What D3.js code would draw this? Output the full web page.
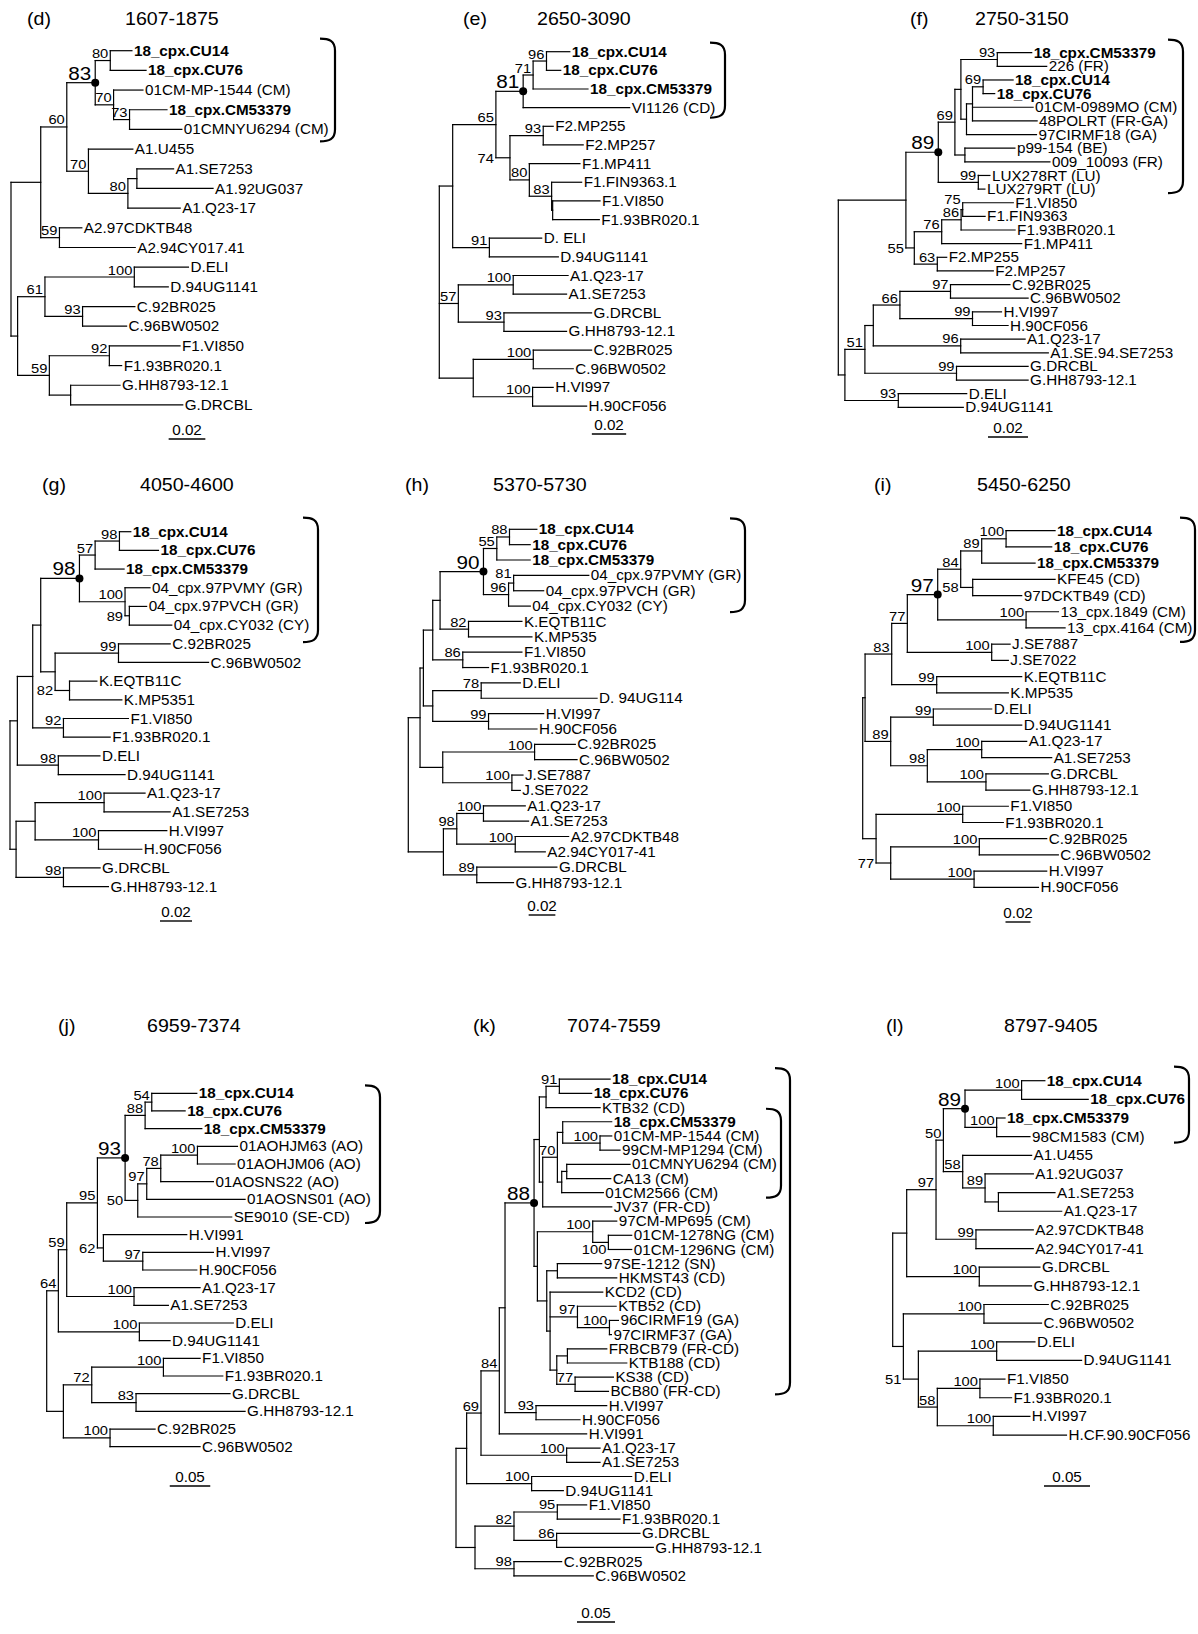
<!DOCTYPE html>
<html>
<head>
<meta charset="utf-8">
<script src="https://cdn.jsdelivr.net/npm/d3@7"></script>
<style>
body { margin: 0; background: #fff; }
svg text { font-family: "Liberation Sans", Arial, Helvetica, sans-serif; fill: #000; }
</style>
</head>
<body>
<svg id="fig" width="1198" height="1634"></svg>
<script>
// ---- data -------------------------------------------------------------
const panelIds = ["(d)", "(e)", "(f)", "(g)", "(h)", "(i)", "(j)", "(k)", "(l)"];
const panelRegions = ["1607-1875", "2650-3090", "2750-3150", "4050-4600", "5370-5730",
                      "5450-6250", "6959-7374", "7074-7559", "8797-9405"];
const scaleValues = [0.02, 0.02, 0.02, 0.02, 0.02, 0.02, 0.05, 0.05, 0.05];

// newick, branch lengths in substitutions/site, internal labels = bootstrap
//   "*" = the 18_cpx node (dot), "<" = label left of parent, "v" = label below branch,
//   "^" = label lifted a little
const treeD = `(((((18_cpx.CU14:0.0118,18_cpx.CU76:0.0195)80:0.0082,
('01CM-MP-1544 (CM)':0.0160,(18_cpx.CM53379:0.0204,'01CMNYU6294 (CM)':0.0285)73:0.0087)70:0.0100)83*:0.0155,
(A1.U455:0.0242,((A1.SE7253:0.0200,A1.92UG037:0.0415):0.0049,A1.Q23-17:0.0285)80:0.0215)70:0.0118)60:0.0142,
(A2.97CDKTB48:0.0122,A2.94CY017.41:0.0413)59:0.0102):0.0162,
(((D.ELI:0.0295,D.94UG1141:0.0185)100:0.0487,(C.92BR025:0.0285,C.96BW0502:0.0240)93:0.0205)61:0.0149,
((F1.VI850:0.0385,F1.93BR020.1:0.0067)92:0.0327,(G.HH8793-12.1:0.0269,G.DRCBL:0.0611):0.0116)59:0.0173):0.0036);`;

const treeE = `((((((18_cpx.CU14:0.0136,18_cpx.CU76:0.0083)96:0.0078,18_cpx.CM53379:0.0320)71:0.0058,'VI1126 (CD)':0.0621)81*:0.0159,
((F2.MP255:0.0058,F2.MP257:0.0233)93:0.0194,(F1.MP411:0.0295,(F1.FIN9363.1:0.0175,(F1.VI850:0.0276,F1.93BR020.1:0.0272):0.0006)83:0.0130)80:0.0113)74<:0.0082)65:0.0252,
('D. ELI':0.0305,D.94UG1141:0.0402)91:0.0214):0.0078,
((A1.Q23-17:0.0320,A1.SE7253:0.0311)100:0.0320,(G.DRCBL:0.0511,G.HH8793-12.1:0.0365)93:0.0266)57:0.0111,
((C.92BR025:0.0340,C.96BW0502:0.0233)100:0.0350,(H.VI997:0.0120,H.90CF056:0.0315)100:0.0346):0.0198);`;

const treeF = `((((((18_cpx.CM53379:0.0172,'226 (FR)':0.0247)93:0.0182,
(((18_cpx.CU14:0.0150,18_cpx.CU76:0.0058)69:0.0053,'01CM-0989MO (CM)':0.0303,'48POLRT (FR-GA)':0.0323):0.0030,'97CIRMF18 (GA)':0.0350):0.0028):0.0030,
('p99-154 (BE)':0.0250,'009_10093 (FR)':0.0425):0.0050)69:0.0083,
('LUX278RT (LU)':0.0058,'LUX279RT (LU)':0.0033)99:0.0200)89*:0.0162,
((((F1.VI850:0.0253,F1.FIN9363:0.0112)75^:0.0008,F1.93BR020.1:0.0270)86:0.0097,F1.MP411:0.0400)76:0.0137,
(F2.MP255:0.0047,F2.MP257:0.0280)63:0.0115)55<:0.0042):0.0338,
(((((C.92BR025:0.0297,C.96BW0502:0.0388)97:0.0253,(H.VI997:0.0145,H.90CF056:0.0178)99:0.0363)66:0.0133,
(A1.Q23-17:0.0322,A1.SE.94.SE7253:0.0438)96:0.0437):0.0042,
(G.DRCBL:0.0358,G.HH8793-12.1:0.0358)99:0.0458)51:0.0100,
(D.ELI:0.0342,D.94UG1141:0.0325)93:0.0267):0.0033);`;

const treeG = `(((((((18_cpx.CU14:0.0071,18_cpx.CU76:0.0244)98:0.0152,18_cpx.CM53379:0.0181)57:0.0098,
('04_cpx.97PVMY (GR)':0.0156,('04_cpx.97PVCH (GR)':0.0108,'04_cpx.CY032 (CY)':0.0265)89<:0.0027)100:0.0285)98*:0.0242,
((C.92BR025:0.0323,C.96BW0502:0.0563)99:0.0396,(K.EQTB11C:0.0171,K.MP5351:0.0327)82<:0.0090):0.0090):0.0050,
(F1.VI850:0.0406,F1.93BR020.1:0.0292)92:0.0192):0.0096,
(D.ELI:0.0260,D.94UG1141:0.0417)98:0.0256):0.0046,
(((A1.Q23-17:0.0256,A1.SE7253:0.0413)100:0.0431,(H.VI997:0.0427,H.90CF056:0.0271)100:0.0396):0.0119,
(G.DRCBL:0.0229,G.HH8793-12.1:0.0281)98:0.0296):0.0038);`;

const treeH = `((((((((18_cpx.CU14:0.0205,18_cpx.CU76:0.0155)88:0.0095,18_cpx.CM53379:0.0250)55:0.0100,
(('04_cpx.97PVMY (GR)':0.0563,'04_cpx.97PVCH (GR)':0.0225)81^:0.0038,'04_cpx.CY032 (CY)':0.0163)96:0.0188)90*:0.0325,
(K.EQTB11C:0.0400,K.MP535:0.0475)82:0.0213):0.0055,
(F1.VI850:0.0443,F1.93BR020.1:0.0193)86:0.0225):0.0070,
((D.ELI:0.0293,'D. 94UG114':0.0868)78:0.0363,(H.VI997:0.0413,H.90CF056:0.0363)99:0.0418):0.0070):0.0025,
((C.92BR025:0.0305,C.96BW0502:0.0318)100:0.0688,(J.SE7887:0.0083,J.SE7022:0.0063)100:0.0518):0.0170):0.0088,
(((A1.Q23-17:0.0313,A1.SE7253:0.0338)100:0.0200,(A2.97CDKTB48:0.0400,A2.94CY017-41:0.0225)100:0.0438)98:0.0100,
(G.DRCBL:0.0600,G.HH8793-12.1:0.0275)89:0.0250):0.0263);`;

const treeI = `((((((((18_cpx.CU14:0.0392,18_cpx.CU76:0.0365)100:0.0195,18_cpx.CM53379:0.0427)89:0.0168,
('KFE45 (CD)':0.0659,'97DCKTB49 (CD)':0.0392)58<:0.0096)84:0.0184,
('13_cpx.1849 (CM)':0.0259,'13_cpx.4164 (CM)':0.0312)100:0.0707)97*:0.0243,
(J.SE7887:0.0147,J.SE7022:0.0133)100:0.0675)77:0.0125,
(K.EQTB11C:0.0680,K.MP535:0.0573)99:0.0360)83:0.0213,
((D.ELI:0.0467,D.94UG1141:0.0707)99:0.0341,((A1.Q23-17:0.0360,A1.SE7253:0.0560)100:0.0435,(G.DRCBL:0.0499,G.HH8793-12.1:0.0352)100:0.0469)98:0.0293)89:0.0205):0.0019,
((F1.VI850:0.0365,F1.93BR020.1:0.0325)100:0.0693,
((C.92BR025:0.0539,C.96BW0502:0.0632)100:0.0709,(H.VI997:0.0581,H.90CF056:0.0515)100:0.0667)77<:0.0117):0.0107);`;

const treeJ = `(((((((18_cpx.CU14:0.0556,18_cpx.CU76:0.0412)54:0.0082,18_cpx.CM53379:0.0700)88:0.0247,
(((('01AOHJM63 (AO)':0.0494,'01AOHJM06 (AO)':0.0465)100:0.0453,'01AOSNS22 (AO)':0.0650)78:0.0173,'01AOSNS01 (AO)':0.1214)97:0.0111,'SE9010 (SE-CD)':0.1160)50<:0.0156)93*:0.0342,
(H.VI991:0.1029,(H.VI997:0.0872,H.90CF056:0.0667)97:0.0486)62<:0.0074)95:0.0379,
(A1.Q23-17:0.0815,A1.SE7253:0.0424)100:0.0831)59:0.0103,
(D.ELI:0.1160,D.94UG1141:0.0379)100:0.1000)64:0.0144,
(((F1.VI850:0.0453,F1.93BR020.1:0.0733)100:0.0885,(G.DRCBL:0.1160,G.HH8793-12.1:0.1346)83:0.0547)72:0.0350,
(C.92BR025:0.0556,C.96BW0502:0.1111)100:0.0576):0.0206);`;

const treeK = `(((((((((18_cpx.CU14:0.0667,18_cpx.CU76:0.0425)91:0.0175,'KTB32 (CD)':0.0711):0.0088,
(((18_cpx.CM53379:0.0645,('01CM-MP-1544 (CM)':0.0154,'99CM-MP1294 (CM)':0.0263)100:0.0491):0.0070,
(('01CMNYU6294 (CM)':0.0833,'CA13 (CM)':0.0579):0.0066,'01CM2566 (CM)':0.0548):0.0057)70:0.0193,'JV37 (FR-CD)':0.0908):0.0044):0.0070,
(('97CM-MP695 (CM)':0.0316,('01CM-1278NG (CM)':0.0307,'01CM-1296NG (CM)':0.0307)100v:0.0206)100:0.0728,
(('97SE-1212 (SN)':0.0583,'HKMST43 (CD)':0.0781):0.0140,
('KCD2 (CD)':0.0693,('KTB52 (CD)':0.0509,('96CIRMF19 (GA)':0.0118,'97CIRMF37 (GA)':0.0026)100:0.0421)97:0.0360,
(('FRBCB79 (FR-CD)':0.0518,'KTB188 (CD)':0.0781):0.0140,('KS38 (CD)':0.0504,'BCB80 (FR-CD)':0.0439)77:0.0241):0.0088):0.0044):0.0123):0.0044)88*:0.0382,
(H.VI997:0.0930,H.90CF056:0.0579)93:0.0408):0.0075,
H.VI991:0.1149)84:0.0241,
(A1.Q23-17:0.0439,A1.SE7253:0.0439)100:0.1127)69:0.0189,
(D.ELI:0.1316,D.94UG1141:0.0417)100:0.0855):0.0140,
(((F1.VI850:0.0386,F1.93BR020.1:0.0825)95:0.0570,(G.DRCBL:0.1096,G.HH8793-12.1:0.1272)86:0.0561)82:0.0513,
(C.92BR025:0.0627,C.96BW0502:0.1043)98:0.0513):0.0250);`;

const treeL = `((((((18_cpx.CU14:0.0253,18_cpx.CU76:0.0724)100:0.0615,(18_cpx.CM53379:0.0091,'98CM1583 (CM)':0.0362)100:0.0344)89*:0.0235,
(A1.U455:0.0749,(A1.92UG037:0.0525,(A1.SE7253:0.0615,A1.Q23-17:0.0688):0.0145)89:0.0243)58:0.0210)50:0.0080,
(A2.97CDKTB48:0.0623,A2.94CY017-41:0.0623)99:0.0434)97:0.0319,
(G.DRCBL:0.0659,G.HH8793-12.1:0.0568)100:0.0789):0.0152,
((C.92BR025:0.0699,C.96BW0502:0.0626)100:0.0876,
((D.ELI:0.0416,D.94UG1141:0.0923)100:0.0851,((F1.VI850:0.0272,F1.93BR020.1:0.0344)100:0.0463,(H.VI997:0.0398,H.CF.90.90CF056:0.0796)100:0.0608)58:0.0206)51<:0.0163):0.0116);`;

const trees = [treeD, treeE, treeF, treeG, treeH, treeI, treeJ, treeK, treeL];

// first and last leaf covered by each bracket
const bracketLeaves = [
  [["18_cpx.CU14", "01CMNYU6294 (CM)"]],
  [["18_cpx.CU14", "VI1126 (CD)"]],
  [["18_cpx.CM53379", "LUX279RT (LU)"]],
  [["18_cpx.CU14", "04_cpx.CY032 (CY)"]],
  [["18_cpx.CU14", "04_cpx.CY032 (CY)"]],
  [["18_cpx.CU14", "13_cpx.4164 (CM)"]],
  [["18_cpx.CU14", "SE9010 (SE-CD)"]],
  [["18_cpx.CU14", "BCB80 (FR-CD)"], ["18_cpx.CM53379", "01CM2566 (CM)"]],
  [["18_cpx.CU14", "98CM1583 (CM)"]]
];

// ---- layout -----------------------------------------------------------
const layout = [
  {rootX: 11,    y0: 50.7,   dy: 19.68, bar: 36.7, barCx: 187,  barY: 439,  titleY: 25,   idX: 27,  regX: 125,  br: [[335, 12, 12]]},
  {rootX: 439.3, y0: 51.7,   dy: 18.65, bar: 34.3, barCx: 609,  barY: 434,  titleY: 25,   idX: 463, regX: 537,  br: [[725, 9, 10]]},
  {rootX: 838.3, y0: 52.7,   dy: 13.64, bar: 40,   barCx: 1008, barY: 437,  titleY: 25,   idX: 910, regX: 975,  br: [[1183, 13, 4]]},
  {rootX: 10,    y0: 531.7,  dy: 18.68, bar: 32,   barCx: 176,  barY: 921,  titleY: 491,  idX: 42,  regX: 140,  br: [[318, 14, 17]]},
  {rootX: 408.3, y0: 529.3,  dy: 15.36, bar: 26.7, barCx: 542,  barY: 915,  titleY: 491,  idX: 405, regX: 493,  br: [[745, 11, 6]]},
  {rootX: 862.7, y0: 530.7,  dy: 16.21, bar: 25,   barCx: 1018, barY: 922,  titleY: 491,  idX: 874, regX: 977,  br: [[1195, 13, 14]]},
  {rootX: 46.7,  y0: 1093.3, dy: 17.67, bar: 40.5, barCx: 190,  barY: 1486, titleY: 1032, idX: 58,  regX: 147,  br: [[380, 8, 6]]},
  {rootX: 456,   y0: 1079.2, dy: 14.19, bar: 38,   barCx: 596,  barY: 1622, titleY: 1032, idX: 473, regX: 567,  br: [[790, 11, 3], [781, 13, 5]]},
  {rootX: 892.7, y0: 1080.7, dy: 18.65, bar: 46,   barCx: 1067, barY: 1486, titleY: 1032, idX: 886, regX: 1004, br: [[1189, 14, 6]]}
];

const SX = 1.09;   // the figure's type is slightly wide

// ---- newick parser ----------------------------------------------------
function parseNewick(src) {
  const s = src.replace(/\s+(?=(?:[^']*'[^']*')*[^']*$)/g, "");
  let i = 0;
  function label() {
    if (s[i] === "'") {
      const j = s.indexOf("'", i + 1);
      const t = s.slice(i + 1, j);
      i = j + 1;
      return t;
    }
    const j0 = i;
    while (i < s.length && !",():;".includes(s[i])) i++;
    return s.slice(j0, i);
  }
  function node() {
    const n = {name: "", length: 0, kids: []};
    if (s[i] === "(") {
      i++;
      n.kids.push(node());
      while (s[i] === ",") { i++; n.kids.push(node()); }
      i++;
    }
    n.name = label();
    if (s[i] === ":") {
      i++;
      const j0 = i;
      while (i < s.length && !",);".includes(s[i])) i++;
      n.length = +s.slice(j0, i);
    }
    return n;
  }
  return node();
}

const svg = d3.select("#fig");

function addText(g, x, y, str, size, anchor, weight) {
  return g.append("text")
    .attr("transform", `translate(${x},${y}) scale(${SX},1)`)
    .attr("text-anchor", anchor || "start")
    .attr("font-size", size)
    .attr("font-weight", weight || "normal")
    .text(str);
}

function drawPanel(k) {
  const L = layout[k];
  const root = d3.hierarchy(parseNewick(trees[k]), d => d.kids.length ? d.kids : null);
  root.eachBefore(d => { d.dist = d.parent ? d.parent.dist + d.data.length : 0; });
  const leaves = root.leaves();
  leaves.forEach((d, i) => { d.row = i; });
  root.eachAfter(d => {
    if (d.children) d.row = (d.children[0].row + d.children[d.children.length - 1].row) / 2;
  });

  const x = d3.scaleLinear().domain([0, scaleValues[k]]).range([L.rootX, L.rootX + L.bar]);
  const y = d3.scaleLinear().domain([0, leaves.length - 1])
    .range([L.y0, L.y0 + (leaves.length - 1) * L.dy]);

  const g = svg.append("g");

  // titles
  addText(g, L.idX, L.titleY, panelIds[k], 18);
  addText(g, L.regX, L.titleY, panelRegions[k], 18);

  // branches
  const lines = g.append("g").attr("fill", "none").attr("stroke", "#000")
    .attr("stroke-width", 1.2).attr("stroke-linecap", "square");
  lines.selectAll("path.h").data(root.descendants().filter(d => d.parent)).join("path")
    .attr("class", "h")
    .attr("d", d => `M${x(d.parent.dist)},${y(d.row)}H${x(d.dist)}`);
  lines.selectAll("path.v").data(root.descendants().filter(d => d.children)).join("path")
    .attr("class", "v")
    .attr("d", d => `M${x(d.dist)},${y(d.children[0].row)}V${y(d.children[d.children.length - 1].row)}`);

  // leaf names
  leaves.forEach(d => {
    const bold = d.data.name.startsWith("18_cpx");
    addText(g, x(d.dist) + 2, y(d.row), d.data.name, 14, "start", bold ? "bold" : "normal")
      .attr("dy", "0.36em");
  });

  // bootstrap values
  root.descendants().filter(d => d.children && d.data.name).forEach(d => {
    const m = d.data.name.match(/^(\d+)([*<v^]?)$/);
    if (!m) return;
    const val = m[1], flag = m[2];
    const nx = x(d.dist), ny = y(d.row);
    if (flag === "*") {
      g.append("circle").attr("cx", nx).attr("cy", ny).attr("r", 4).attr("fill", "#000");
      addText(g, nx - 4, ny - 3, val, 19, "end");
    } else if (flag === "<") {
      addText(g, x(d.parent.dist) - 2, ny, val, 13.5, "end").attr("dy", "0.36em");
    } else if (flag === "v") {
      addText(g, nx - 2, ny + 12, val, 13.5, "end");
    } else if (flag === "^") {
      addText(g, nx - 2, ny - 5.5, val, 13.5, "end");
    } else {
      addText(g, nx - 2, ny - 2.5, val, 13.5, "end");
    }
  });

  // brackets around the 18_cpx clade
  const byName = new Map(leaves.map(d => [d.data.name, d]));
  bracketLeaves[k].forEach((pair, j) => {
    const [bx, pt, pb] = L.br[j];
    const top = y(byName.get(pair[0]).row) - pt;
    const bot = y(byName.get(pair[1]).row) + pb;
    g.append("path")
      .attr("fill", "none").attr("stroke", "#000").attr("stroke-width", 2.2)
      .attr("d", `M${bx - 15},${top} C${bx - 6},${top} ${bx},${top + 2} ${bx},${top + 12}` +
                 `V${bot - 12} C${bx},${bot - 2} ${bx - 6},${bot} ${bx - 15},${bot}`);
  });

  // scale bar
  const w = x(scaleValues[k]) - x(0);
  g.append("line")
    .attr("x1", L.barCx - w / 2).attr("x2", L.barCx + w / 2)
    .attr("y1", L.barY).attr("y2", L.barY)
    .attr("stroke", "#000").attr("stroke-width", 1.4);
  addText(g, L.barCx, L.barY - 4, scaleValues[k].toFixed(2), 14, "middle");
}

panelIds.forEach((_, k) => drawPanel(k));
</script>
</body>
</html>
